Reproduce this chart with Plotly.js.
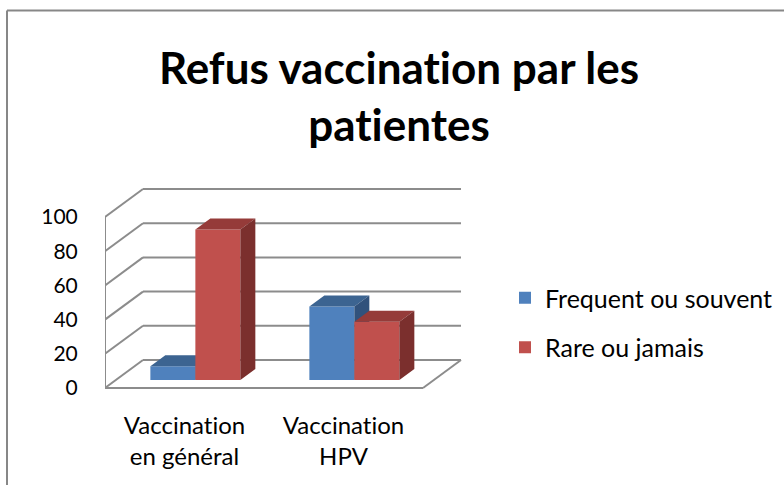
<!DOCTYPE html>
<html><head><meta charset="utf-8">
<script src="https://cdn.plot.ly/plotly-3.0.1.min.js"></script>
<style>html,body{margin:0;padding:0;background:#fff}#chart{width:784px;height:485px}
#chart text{font-variant-ligatures:none;font-feature-settings:"liga" 0,"clig" 0}</style>
</head><body><div id="chart"></div>
<script>
// ---- data ----
const categories = ["Vaccination<br>en général", "Vaccination<br>HPV"];
const seriesNames = ["Frequent ou souvent", "Rare ou jamais"];
const frequentValues = [8, 43];
const rareValues = [88, 34];
const yTicks = [0, 20, 40, 60, 80, 100];

// ---- geometry (layout only) ----
const W = 784, H = 485;
const L = 105, R = 465, T = 180, B = 395;
const PX_PER_CAT = 159, PX_PER_UNIT = 1.71, ZERO_PX = 388;
const X0 = -0.5, XN = X0 + categories.length;
const xr = [X0, X0 + (R - L) / PX_PER_CAT];
const yr = [-(B - ZERO_PX) / PX_PER_UNIT, (ZERO_PX - T) / PX_PER_UNIT];
const DX = 38 / PX_PER_CAT, DY = 28 / PX_PER_UNIT;   // full depth offset
const D0 = 0.286, D1 = 0.68;                          // bar depth span
const BW = 0.283;                                     // bar width
const FONT = "Lato, 'Open Sans', sans-serif";

const series = [
  {name: seriesNames[0], values: frequentValues, off: -BW / 2,
   front: "#4F81BD", top: "#3C6491", side: "#31527C", xa: "x", ya: "y"},
  {name: seriesNames[1], values: rareValues, off: BW / 2,
   front: "#C0504D", top: "#953B39", side: "#7B2F2D", xa: "x2", ya: "y2"}
];

const traces = [];
const base = D0 * DY, ddx = (D1 - D0) * DX, ddy = (D1 - D0) * DY;
series.forEach((s, si) => {
  const cx = s.values.map((v, i) => i + s.off + D0 * DX);
  traces.push({
    type: "bar", name: s.name, x: cx, y: s.values, base: s.values.map(() => base),
    width: s.values.map(() => BW), marker: {color: s.front, line: {width: 0}},
    xaxis: s.xa, yaxis: s.ya, legendgroup: "g" + si, hoverinfo: "skip"
  });
  const tx = [], ty = [], sx = [], sy = [];
  s.values.forEach((v, i) => {
    const xl = cx[i] - BW / 2, xrt = cx[i] + BW / 2, top = base + v;
    tx.push(xl, xrt, xrt + ddx, xl + ddx, xl, null);
    ty.push(top, top, top + ddy, top + ddy, top, null);
    sx.push(xrt, xrt, xrt + ddx, xrt + ddx, xrt, null);
    sy.push(base, top, top + ddy, base + ddy, base, null);
  });
  traces.push({type: "scatter", x: tx, y: ty, mode: "none", fill: "toself",
    fillcolor: s.top, xaxis: s.xa, yaxis: s.ya, showlegend: false, hoverinfo: "skip"});
  traces.push({type: "scatter", x: sx, y: sy, mode: "none", fill: "toself",
    fillcolor: s.side, xaxis: s.xa, yaxis: s.ya, showlegend: false, hoverinfo: "skip"});
});

// ---- walls / grid as shapes ----
const GRID = {color: "#8C8C8C", width: 2};
const shapes = [];
function seg(x0, y0, x1, y1) {
  shapes.push({type: "line", xref: "x", yref: "y", x0, y0, x1, y1, line: GRID, layer: "below"});
}
yTicks.forEach(v => {
  seg(X0 + DX, v + DY, XN + DX, v + DY);
  seg(X0, v, X0 + DX, v + DY);
});
seg(X0, 0, X0, yTicks[yTicks.length - 1]);
seg(X0, 0, XN, 0);
seg(XN, 0, XN + DX, DY);

// outer chart border (paper coords from pixels)
const px = p => (p - L) / (R - L), py = p => (B - p) / (B - T);
const BORDER = {color: "#878787", width: 2};
shapes.push({type: "line", xref: "paper", yref: "paper", x0: px(7), y0: py(10.5), x1: px(800), y1: py(10.5), line: BORDER});
shapes.push({type: "line", xref: "paper", yref: "paper", x0: px(7), y0: py(10.5), x1: px(7), y1: py(500), line: BORDER});

const layout = {
  width: W, height: H,
  margin: {l: L, r: W - R, t: T, b: H - B, pad: 0},
  paper_bgcolor: "#fff", plot_bgcolor: "rgba(0,0,0,0)",
  font: {family: FONT, color: "#000", size: 20},
  title: {text: "<b>Refus vaccination par les<br>patientes</b>", font: {family: FONT, size: 44, color: "#000"},
          xref: "container", x: 399 / W, xanchor: "center", yref: "container", y: 1 - 84 / H, yanchor: "top"},
  showlegend: true,
  legend: {xref: "container", yref: "container", x: 505 / W, y: 1 - 322.5 / H, yanchor: "middle", xanchor: "left",
           font: {family: FONT, size: 25, color: "#000"}, tracegroupgap: 14, bgcolor: "rgba(0,0,0,0)", traceorder: "grouped"},
  barmode: "overlay",
  xaxis: {range: xr, tickvals: categories.map((c, i) => i), ticktext: categories, showgrid: false, zeroline: false,
          showline: false, ticks: "outside", ticklen: 9, tickcolor: "rgba(0,0,0,0)", tickfont: {family: FONT, size: 24}, fixedrange: true},
  yaxis: {range: yr, tickvals: yTicks, showgrid: false, zeroline: false, showline: false,
          ticks: "outside", ticklen: 22, tickcolor: "rgba(0,0,0,0)", tickfont: {family: FONT, size: 21}, fixedrange: true},
  xaxis2: {range: xr, overlaying: "x", visible: false, fixedrange: true},
  yaxis2: {range: yr, overlaying: "y", visible: false, fixedrange: true},
  shapes: shapes,
  hovermode: false
};

Plotly.newPlot("chart", traces, layout, {displayModeBar: false, staticPlot: true});
</script>
</body></html>
